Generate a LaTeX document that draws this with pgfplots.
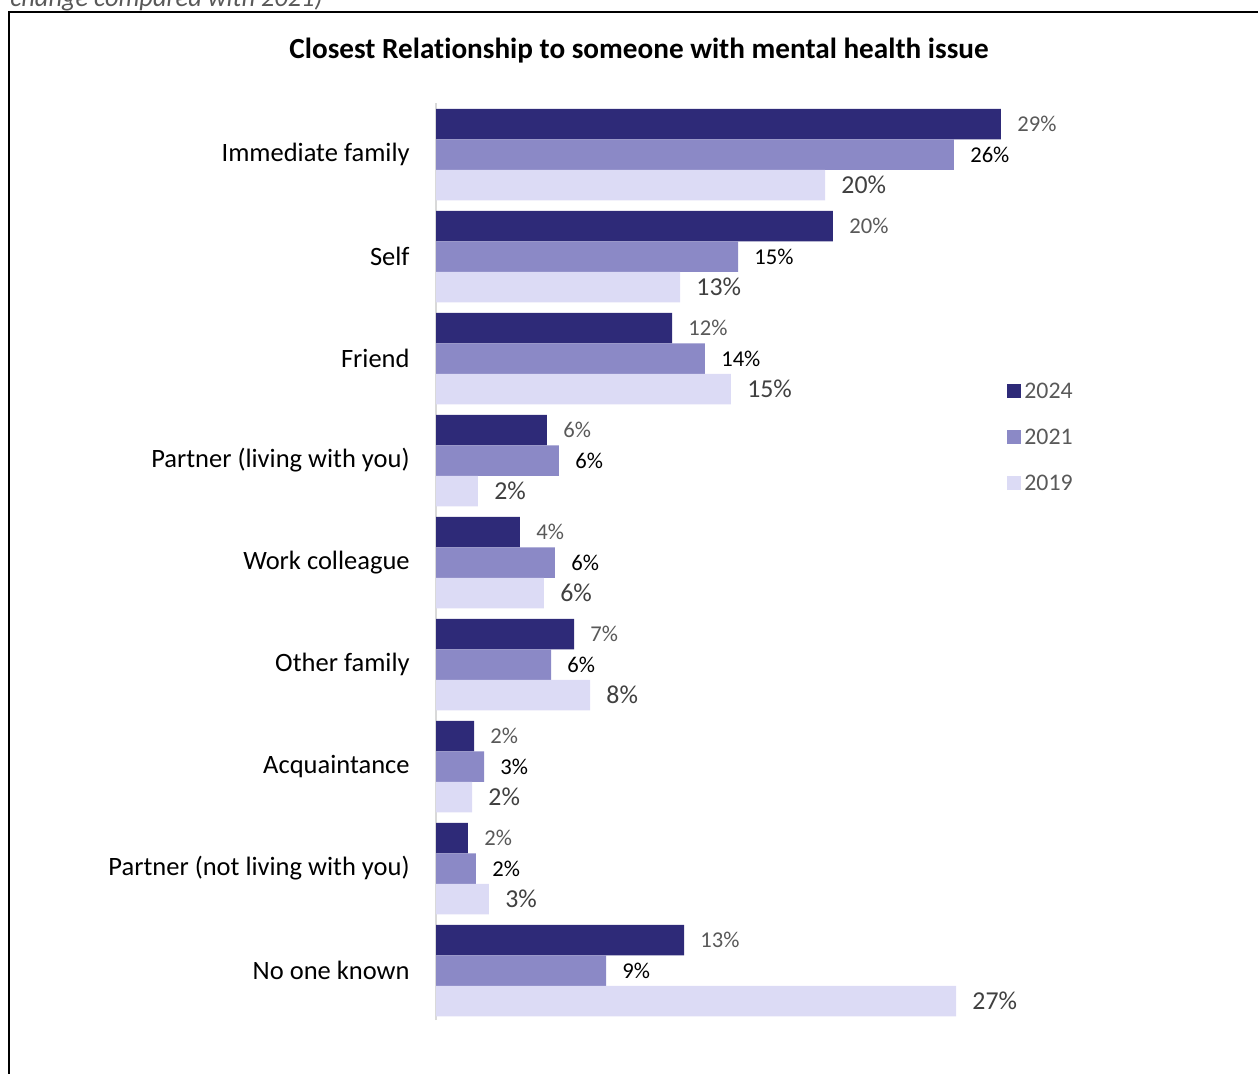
\documentclass[border=0pt]{standalone}
\usepackage{pgfplots}
\pgfplotsset{compat=1.18}
\usepackage{fontspec}
\setmainfont[Ligatures=NoCommon]{Carlito}
\definecolor{c24}{HTML}{2E2A78}
\definecolor{c21}{HTML}{8B89C6}
\definecolor{c19}{HTML}{DCDBF5}
\definecolor{lab}{HTML}{595959}
\definecolor{lab19}{HTML}{404040}
\definecolor{axgray}{HTML}{D9D9D9}
\begin{document}
\begin{tikzpicture}
\begin{scope}[x=0.5pt,y=-0.5pt]
\useasboundingbox (0,0) rectangle (1258,1074);
\node[anchor=base west, font=\fontsize{13.2}{15}\selectfont\itshape, text=lab, inner sep=0] at (10,6.5) {change compared with 2021)};
\draw[line width=1pt] (9,1090) -- (9,12) -- (1270,12);
\node[font=\fontsize{14.6}{17}\selectfont\bfseries, anchor=base, inner sep=0] at (639,59) {Closest Relationship to someone with mental health issue};
\end{scope}
\begin{axis}[
  at={(218pt,-510pt)}, anchor=south west,
  scale only axis, width=394pt, height=458.5pt,
  xbar, xmin=0, xmax=40, ymin=-0.485, ymax=8.505,
  axis x line=none, axis y line*=left,
  y axis line style={draw=axgray, line width=0.75pt, -},
  ytick={0,...,8},
  yticklabels={No one known, Partner (not living with you), Acquaintance, Other family, Work colleague, Partner (living with you), Friend, Self, Immediate family},
  major tick length=0pt,
  y tick label style={font=\fontsize{13.25}{16}\selectfont, inner sep=0pt, xshift=-13pt, anchor=east},
  bar width=15.25pt,
  point meta=explicit,
  /pgf/number format/assume math mode=true,
  nodes near coords={\pgfmathprintnumber[assume math mode=true]{\pgfplotspointmeta}\%},
  every node near coord/.append style={anchor=west, inner sep=0pt, xshift=8pt},
  legend style={at={(0.717,0.703)}, anchor=north west, draw=none, fill=none,
    font=\fontsize{11.9}{14}\selectfont, text=lab, row sep=12pt,
    nodes={inner sep=1.5pt, text height=8pt, text depth=0pt},
    /tikz/every odd column/.style={xshift=0pt}},
  legend cell align=left,
  clip=false,
]
\addplot[fill=c24, draw=none, bar shift=15.25pt,
  every node near coord/.append style={text=lab, font=\fontsize{11.3}{14}\selectfont},
  legend image code/.code={\fill[c24] (0pt,-3.5pt) rectangle (7pt,3.5pt);}]
  coordinates {(12.59,0)[13] (1.62,1)[2] (1.93,2)[2] (7.01,3)[7] (4.26,4)[4] (5.63,5)[6] (11.98,6)[12] (20.15,7)[20] (28.68,8)[29]};
\addlegendentry{2024}
\addplot[fill=c21, draw=none, bar shift=0pt,
  every node near coord/.append style={text=black, font=\fontsize{11.3}{14}\selectfont},
  legend image code/.code={\fill[c21] (0pt,-3.5pt) rectangle (7pt,3.5pt);}]
  coordinates {(8.63,0)[9] (2.03,1)[2] (2.44,2)[3] (5.84,3)[6] (6.04,4)[6] (6.24,5)[6] (13.65,6)[14] (15.33,7)[15] (26.29,8)[26]};
\addlegendentry{2021}
\addplot[fill=c19, draw=none, bar shift=-15.25pt,
  every node near coord/.append style={text=lab19, font=\fontsize{12.9}{15}\selectfont},
  legend image code/.code={\fill[c19] (0pt,-3.5pt) rectangle (7pt,3.5pt);}]
  coordinates {(26.40,0)[27] (2.69,1)[3] (1.83,2)[2] (7.82,3)[8] (5.48,4)[6] (2.13,5)[2] (14.97,6)[15] (12.39,7)[13] (19.75,8)[20]};
\addlegendentry{2019}
\end{axis}
\end{tikzpicture}
\end{document}
